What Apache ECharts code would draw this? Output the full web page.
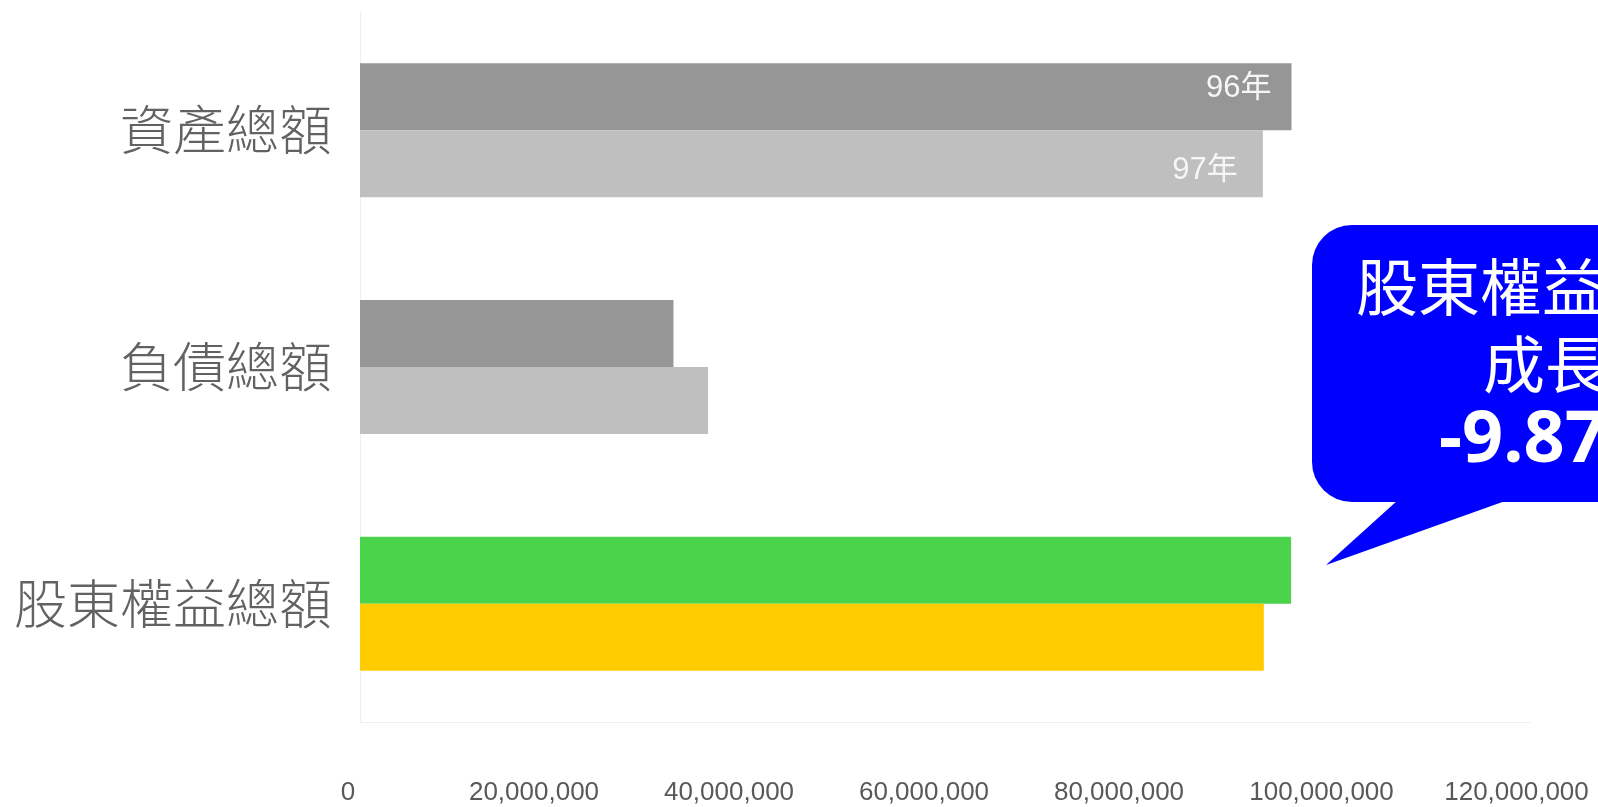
<!DOCTYPE html>
<html><head><meta charset="utf-8">
<script src="https://cdn.jsdelivr.net/npm/echarts@6/dist/echarts.min.js"></script>
<style>html,body{margin:0;padding:0;background:#fff;}#c{width:1598px;height:807px;}</style>
</head><body><div id="c"></div>
<script>
// ---- data ----
const categories = ['資產總額', '負債總額', '股東權益總額'];
const seriesNames = ['96年', '97年'];
const values96 = [95540000, 32150000, 95500000];
const values97 = [92600000, 35700000, 92700000];
const xTickValues = [0, 20000000, 40000000, 60000000, 80000000, 100000000, 120000000];
const calloutLines = ['股東權益總額', '成長率', '-9.87%'];

// ---- styles ----
const colors96 = ['#969696', '#969696', '#4bd34b'];
const colors97 = ['#bfbfbf', '#bfbfbf', '#ffcc00'];
const labelled = [true, false, false];

const chart = echarts.init(document.getElementById('c'), null, {renderer: 'canvas'});

function mkData(vals, cols, name, dist, off) {
  return vals.map((v, i) => ({
    value: v,
    itemStyle: {color: cols[i]},
    label: {
      show: labelled[i], position: 'insideRight', distance: dist, offset: off,
      formatter: name, color: '#f6f6f6', fontSize: 31,
      fontFamily: "'Liberation Sans', 'Noto Sans CJK TC', sans-serif"
    }
  }));
}

const labelFont = "'Liberation Sans', Arial, sans-serif";
const tickRich = {
  z: {padding: [0, 24, 0, 0], fontSize: 26, color: '#595959', fontFamily: labelFont},
  e: {padding: [0, 42, 0, 0], fontSize: 26, color: '#595959', fontFamily: labelFont},
  n: {padding: [0, 27, 0, 0], fontSize: 26, color: '#595959', fontFamily: labelFont}
};

const option = {
  animation: false,
  backgroundColor: '#ffffff',
  grid: {left: 360, right: 68, top: 12, bottom: 85, containLabel: false},
  xAxis: {
    type: 'value', min: xTickValues[0], max: xTickValues[xTickValues.length - 1],
    interval: xTickValues[1] - xTickValues[0],
    axisLine: {show: true, lineStyle: {color: '#efefef', width: 1}},
    axisTick: {show: false},
    splitLine: {show: false},
    axisLabel: {
      margin: 58,
      formatter: function (v) {
        const s = Number(v).toLocaleString('en-US');
        const k = s.length === 1 ? 'z' : (s.length <= 10 ? 'e' : 'n');
        return '{' + k + '|' + s + '}';
      },
      rich: tickRich
    }
  },
  yAxis: {
    type: 'category', data: categories, inverse: true,
    axisLine: {show: true, lineStyle: {color: '#efefef', width: 1}},
    axisTick: {show: false},
    splitLine: {show: false},
    axisLabel: {
      fontSize: 53, color: '#626262', margin: 28,
      fontFamily: "'Noto Sans CJK TC', sans-serif", fontWeight: 300,
      padding: [0, 0, 16, 0]
    }
  },
  series: [
    {type: 'bar', name: seriesNames[0], data: mkData(values96, colors96, seriesNames[0], 20, [0, -8]),
     barWidth: 67, barGap: '0%'},
    {type: 'bar', name: seriesNames[1], data: mkData(values97, colors97, seriesNames[1], 25, [0, 7]),
     barWidth: 67, barGap: '0%'}
  ],
  graphic: [{
    type: 'group', z: 100,
    children: [
      {type: 'rect', shape: {x: 1312, y: 225, width: 420, height: 277, r: 40}, style: {fill: '#0000ff'}},
      {type: 'polygon', shape: {points: [[1398, 500], [1508, 500], [1326, 565]]}, style: {fill: '#0000ff'}},
      {type: 'text', x: 1356, y: 287, style: {text: calloutLines[0], fill: '#ffffff', fontSize: 62,
        fontFamily: "'Noto Sans CJK TC', sans-serif", align: 'left', verticalAlign: 'middle'}},
      {type: 'text', x: 1483, y: 364, style: {text: calloutLines[1], fill: '#ffffff', fontSize: 62,
        fontFamily: "'Noto Sans CJK TC', sans-serif", align: 'left', verticalAlign: 'middle'}},
      {type: 'text', x: 1439, y: 441, style: {text: calloutLines[2], fill: '#ffffff', fontSize: 72, fontWeight: 'bold',
        fontFamily: "'Noto Sans', sans-serif", align: 'left', verticalAlign: 'middle'}}
    ]
  }]
};
chart.setOption(option);
</script>
</body></html>
